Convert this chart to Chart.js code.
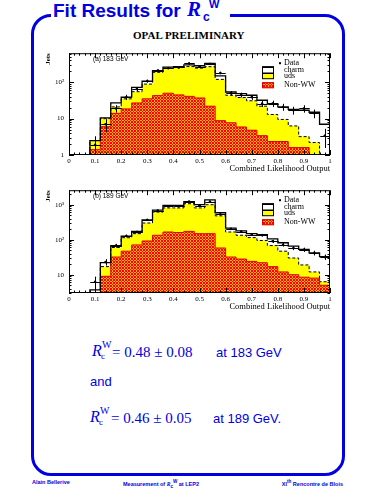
<!DOCTYPE html>
<html>
<head>
<meta charset="utf-8">
<title>Fit Results for Rc W</title>
<script src="https://cdn.jsdelivr.net/npm/chart.js@4.4.1/dist/chart.umd.min.js"></script>
<style>
  body { margin: 0; background: #fff; }
  #page { position: relative; width: 375px; height: 500px; overflow: hidden; color: #0000e0; font-family: "Liberation Sans", Arial, sans-serif; }
  .abs { position: absolute; white-space: nowrap; line-height: 1; }
  #frame { position: absolute; left: 31px; top: 14px; width: 314px; height: 462px; box-sizing: border-box; border: 3px solid #0000e0; border-radius: 20px; }
  #gap { position: absolute; left: 51px; top: 10px; width: 179px; height: 10px; background: #fff; }
  .ttl { font-weight: bold; font-size: 19px; }
  .serif { font-family: "Liberation Serif", "Times New Roman", serif; }
  .mi { font-family: "Liberation Serif", serif; font-style: italic; }
  .eq { font-family: "Liberation Serif", serif; font-size: 15px; }
  .sans13 { font-size: 13px; }
  .foot { font-size: 5.5px; font-weight: bold; }
  .chartbox { position: absolute; left: 36px; width: 300px; }
</style>
</head>
<body>
<div id="page">
  <div id="frame"></div>
  <div id="gap"></div>

  <div class="abs ttl" style="left:53px; top:1px;">Fit Results for</div>
  <div class="abs mi" style="left:187px; top:-1px; font-size:21px; font-weight:bold;">R</div>
  <div class="abs" style="left:203px; top:11px; font-size:12px; font-weight:bold;">c</div>
  <div class="abs" style="left:209px; top:-1px; font-size:11px; font-weight:bold;">W</div>

  <div class="abs serif" style="left:133px; top:30px; font-size:11px; font-weight:bold; color:#000;">OPAL PRELIMINARY</div>

  <div class="chartbox" style="top:44px; height:132px;"><canvas id="c183" width="300" height="132"></canvas></div>
  <div class="chartbox" style="top:181px; height:133px;"><canvas id="c189" width="300" height="133"></canvas></div>

  <div class="abs mi" style="left:92px; top:343px; font-size:16px;">R</div>
  <div class="abs serif" style="left:101px; top:352px; font-size:9px;">c</div>
  <div class="abs serif" style="left:102px; top:340px; font-size:10px;">W</div>
  <div class="abs eq" style="left:112px; top:345px;">= 0.48 ± 0.08</div>
  <div class="abs sans13" style="left:216px; top:346px;">at 183 GeV</div>

  <div class="abs sans13" style="left:90px; top:375px;">and</div>

  <div class="abs mi" style="left:90px; top:409px; font-size:16px;">R</div>
  <div class="abs serif" style="left:99px; top:418px; font-size:9px;">c</div>
  <div class="abs serif" style="left:100px; top:406px; font-size:10px;">W</div>
  <div class="abs eq" style="left:111px; top:411px;">= 0.46 ± 0.05</div>
  <div class="abs sans13" style="left:213px; top:412px;">at 189 GeV.</div>

  <div class="abs foot" style="left:32px; top:480px;">Alain Bellerive</div>
  <div class="abs foot" style="left:123px; top:480px;">Measurement of <span class="mi">R</span><sub>c</sub><sup>W</sup> at LEP2</div>
  <div class="abs foot" style="right:32px; top:480px;">XI<sup>th</sup> Rencontre de Blois</div>
</div>

<script>
// bin edges of the likelihood histograms (25 bins of 0.04)
var binEdges = [0, 0.04, 0.08, 0.12, 0.16, 0.2, 0.24, 0.28, 0.32, 0.36, 0.4, 0.44, 0.48,
                0.52, 0.56, 0.6, 0.64, 0.68, 0.72, 0.76, 0.8, 0.84, 0.88, 0.92, 0.96, 1];
var xTicks = [0, 0.1, 0.2, 0.3, 0.4, 0.5, 0.6, 0.7, 0.8, 0.9, 1];
var xTickLabels = ['0', '0.1', '0.2', '0.3', '0.4', '0.5', '0.6', '0.7', '0.8', '0.9', '1'];

// (a) 183 GeV  -- stacked: nonWW, nonWW+uds, nonWW+uds+charm
var nonWW183 = [null, null, 1.4, 6, 14, 18.5, 27, 35, 43, 50, 45, 41, 37, 22,
                8.8, 7.7, 5.9, 4.8, 3.4, 2.35, 2.35, 1.6, 1.6, null, null];
var uds183   = [null, null, 2.5, 10, 21, 35, 55, 89, 188, 245, 255, 270, 245, 268,
                120, 44, 38, 31, 22, 13, 9.5, 6.3, 3.2, 2.2, null];
var total183 = [null, null, 2.5, 10.5, 27, 39, 72, 108, 208, 260, 270, 300, 285, 330,
                150, 54, 49, 44, 32, 26, 21, 18, 17, 15, 7];
var data183  = [null, null, 1.9, 7, 19, 39, 65, 108, 210, 245, 255, 330, 270, 320,
                180, 50, 45, 39, 26, 26, 21, 17, 19, 14, 3.4];
var yTicks183 = [1, 10, 100];
var yLabels183 = ['1', '10', '10²'];

// (b) 189 GeV
var nonWW189 = [null, null, null, 9, 32, 47, 71, 92, 134, 166, 160, 173, 149, 149,
                58, 32, 28, 24, 22, 17, 12, 10, 8.5, 8, 5];
var uds189   = [null, null, null, 17, 60, 114, 149, 300, 615, 810, 810, 1070, 810, 1000,
                480, 166, 134, 115, 95, 68, 47, 30, 19, 12, 6.3];
var total189 = [null, null, 3.7, 22, 68, 126, 173, 370, 700, 960, 950, 1230, 1000, 1370,
                590, 214, 180, 150, 140, 105, 82, 66, 53, 42, 33];
var data189  = [null, null, 6.3, 23, 68, 128, 166, 370, 680, 900, 900, 1230, 950, 1230,
                530, 204, 170, 140, 135, 90, 72, 58, 52, 42, 32];
var yTicks189 = [10, 100, 1000];
var yLabels189 = ['10', '10²', '10³'];

function hatch() {
  var c = document.createElement('canvas');
  c.width = 3; c.height = 3;
  var g = c.getContext('2d');
  g.fillStyle = '#ff0000';
  g.fillRect(0, 0, 3, 3);
  g.fillStyle = '#ffb400';
  g.fillRect(1, 0, 1, 1); g.fillRect(0, 1, 1, 1); g.fillRect(2, 1, 1, 1); g.fillRect(1, 2, 1, 1);
  return g.createPattern(c, 'repeat');
}
var redFill = hatch();

// histogram values -> step line points at bin edges
function steps(vals) {
  var pts = [];
  for (var i = 0; i < vals.length; i++) {
    pts.push({x: binEdges[i], y: vals[i] == null ? 1e-3 : vals[i]});
  }
  var last = vals[vals.length - 1];
  pts.push({x: binEdges[vals.length], y: last == null ? 1e-3 : last});
  return pts;
}
function centres(vals) {
  var pts = [];
  for (var i = 0; i < vals.length; i++) {
    if (vals[i] != null) pts.push({x: (binEdges[i] + binEdges[i + 1]) / 2, y: vals[i]});
  }
  return pts;
}

// frame with inward ticks on all four sides
var frameTicks = {
  id: 'frameTicks',
  afterDraw: function(chart) {
    var a = chart.chartArea, ctx = chart.ctx, xs = chart.scales.x, ys = chart.scales.y;
    ctx.save();
    ctx.strokeStyle = '#000';
    ctx.lineWidth = 1;
    ctx.strokeRect(a.left + 0.5, a.top + 0.5, a.right - a.left - 1, a.bottom - a.top - 1);
    ctx.beginPath();
    for (var k = 0; k <= 50; k++) {
      var px = Math.round(xs.getPixelForValue(k / 50)) + 0.5;
      var len = k % 5 === 0 ? 5 : 2.5;
      ctx.moveTo(px, a.bottom); ctx.lineTo(px, a.bottom - len);
      ctx.moveTo(px, a.top); ctx.lineTo(px, a.top + len);
    }
    for (var e = -1; e <= 4; e++) {
      for (var m = 1; m < 10; m++) {
        var v = m * Math.pow(10, e);
        if (v < ys.min || v > ys.max) continue;
        var py = Math.round(ys.getPixelForValue(v)) + 0.5;
        var l = m === 1 ? 5 : 2.5;
        ctx.moveTo(a.left, py); ctx.lineTo(a.left + l, py);
        ctx.moveTo(a.right, py); ctx.lineTo(a.right - l, py);
      }
    }
    ctx.stroke();
    ctx.restore();
  }
};

// poisson error bars for the data points, bin-wide horizontal bar
var errorBars = {
  id: 'errorBars',
  afterDatasetsDraw: function(chart) {
    var ctx = chart.ctx, xs = chart.scales.x, ys = chart.scales.y, a = chart.chartArea;
    var meta = chart.getDatasetMeta(0);
    var pts = chart.data.datasets[0].data;
    var half = (xs.getPixelForValue(binEdges[1]) - xs.getPixelForValue(binEdges[0])) / 2;
    ctx.save();
    ctx.beginPath();
    ctx.rect(a.left, a.top, a.right - a.left, a.bottom - a.top);
    ctx.clip();
    ctx.strokeStyle = '#000';
    ctx.lineWidth = 1;
    ctx.beginPath();
    meta.data.forEach(function(el, i) {
      var v = pts[i].y, err = Math.sqrt(v);
      var x = Math.round(el.x) + 0.5, y = Math.round(el.y) + 0.5;
      ctx.moveTo(x, ys.getPixelForValue(v + err));
      ctx.lineTo(x, ys.getPixelForValue(Math.max(v - err, 1e-3)));
      ctx.moveTo(x - half, y);
      ctx.lineTo(x + half, y);
    });
    ctx.stroke();
    ctx.restore();
  }
};

// in-frame legend and panel label
function boxLegend(panel) {
  return {
    id: 'boxLegend',
    afterDraw: function(chart) {
      var a = chart.chartArea, ctx = chart.ctx;
      var bx = a.right - 68, tx = a.right - 46;
      ctx.save();
      ctx.fillStyle = '#000';
      ctx.font = '6.5px "Liberation Sans"';
      ctx.textBaseline = 'middle';
      ctx.fillText(panel, a.left + 24, a.top + 6);
      ctx.font = '8px "Liberation Serif"';
      ctx.fillRect(tx - 5, a.top + 9, 2, 2);
      ctx.fillText('Data', tx, a.top + 10);
      ctx.fillStyle = '#fff';
      ctx.fillRect(bx, a.top + 13, 12, 7);
      ctx.fillStyle = '#ffff00';
      ctx.fillRect(bx, a.top + 20, 12, 6);
      ctx.fillStyle = redFill;
      ctx.fillRect(bx, a.top + 29, 12, 6);
      ctx.strokeStyle = '#000';
      ctx.lineWidth = 1;
      ctx.strokeRect(bx + 0.5, a.top + 13.5, 11, 12);
      ctx.lineWidth = 1.5;
      ctx.beginPath();
      ctx.moveTo(bx, a.top + 14); ctx.lineTo(bx + 12, a.top + 14);
      ctx.moveTo(bx, a.top + 20); ctx.lineTo(bx + 12, a.top + 20);
      ctx.stroke();
      ctx.strokeStyle = '#e00000';
      ctx.lineWidth = 1;
      ctx.strokeRect(bx + 0.5, a.top + 29.5, 11, 5);
      ctx.fillStyle = '#000';
      ctx.fillText('charm', tx, a.top + 16.5);
      ctx.fillText('uds', tx, a.top + 23);
      ctx.fillText('Non-WW', tx, a.top + 32);
      ctx.restore();
    }
  };
}

function makeChart(id, p) {
  return new Chart(document.getElementById(id), {
    type: 'line',
    data: {
      datasets: [
        { type: 'scatter', label: 'Data', data: centres(p.data), order: 0,
          pointStyle: 'rect', pointRadius: 1, backgroundColor: '#000', borderColor: '#000' },
        { label: 'charm', data: steps(p.total), order: 1, stepped: 'before', fill: false,
          borderColor: '#000', borderWidth: 1.3, pointRadius: 0 },
        { label: 'Non-WW', data: steps(p.nonWW), order: 2, stepped: 'before', fill: 'start',
          backgroundColor: redFill, borderColor: '#e00000', borderWidth: 1, pointRadius: 0 },
        { label: 'uds', data: steps(p.uds), order: 3, stepped: 'before', fill: 'start',
          backgroundColor: '#ffff00', borderColor: '#000', borderWidth: 1, borderDash: [3, 2],
          pointRadius: 0 }
      ]
    },
    options: {
      responsive: false,
      animation: false,
      layout: { padding: { left: 0, top: 6, right: 6, bottom: 0 } },
      plugins: { legend: { display: false }, tooltip: { enabled: false } },
      scales: {
        x: {
          type: 'linear', min: 0, max: 1,
          afterBuildTicks: function(s) { s.ticks = xTicks.map(function(v) { return {value: v}; }); },
          afterFit: function(s) { s.height = 21; },
          ticks: { autoSkip: false, maxRotation: 0, padding: 2, color: '#000',
                   font: { family: 'Liberation Serif', size: 7 },
                   callback: function(v, i) { return xTickLabels[i]; } },
          grid: { display: false, drawTicks: false },
          border: { display: false },
          title: { display: true, text: 'Combined Likelihood Output', align: 'end', color: '#000',
                   font: { family: 'Liberation Serif', size: 8.5 }, padding: { top: 0, bottom: 2 } }
        },
        y: {
          type: 'logarithmic', min: p.yMin, max: p.yMax,
          afterBuildTicks: function(s) { s.ticks = p.yTicks.map(function(v) { return {value: v}; }); },
          afterFit: function(s) { s.width = 33; },
          ticks: { autoSkip: false, padding: 5, color: '#000',
                   font: { family: 'Liberation Serif', size: 7 },
                   callback: function(v, i) { return p.yLabels[i]; } },
          grid: { display: false, drawTicks: false },
          border: { display: false },
          title: { display: true, text: 'Jets', align: 'end', color: '#000',
                   font: { family: 'Liberation Serif', size: 7, weight: 'bold' },
                   padding: { top: 8, bottom: 0 } }
        }
      }
    },
    plugins: [frameTicks, errorBars, boxLegend(p.panel)]
  });
}

makeChart('c183', { nonWW: nonWW183, uds: uds183, total: total183, data: data183,
                    yMin: 1, yMax: 630, yTicks: yTicks183, yLabels: yLabels183, panel: '(a) 183 GeV' });
makeChart('c189', { nonWW: nonWW189, uds: uds189, total: total189, data: data189,
                    yMin: 3, yMax: 2600, yTicks: yTicks189, yLabels: yLabels189, panel: '(b) 189 GeV' });
</script>
</body>
</html>
